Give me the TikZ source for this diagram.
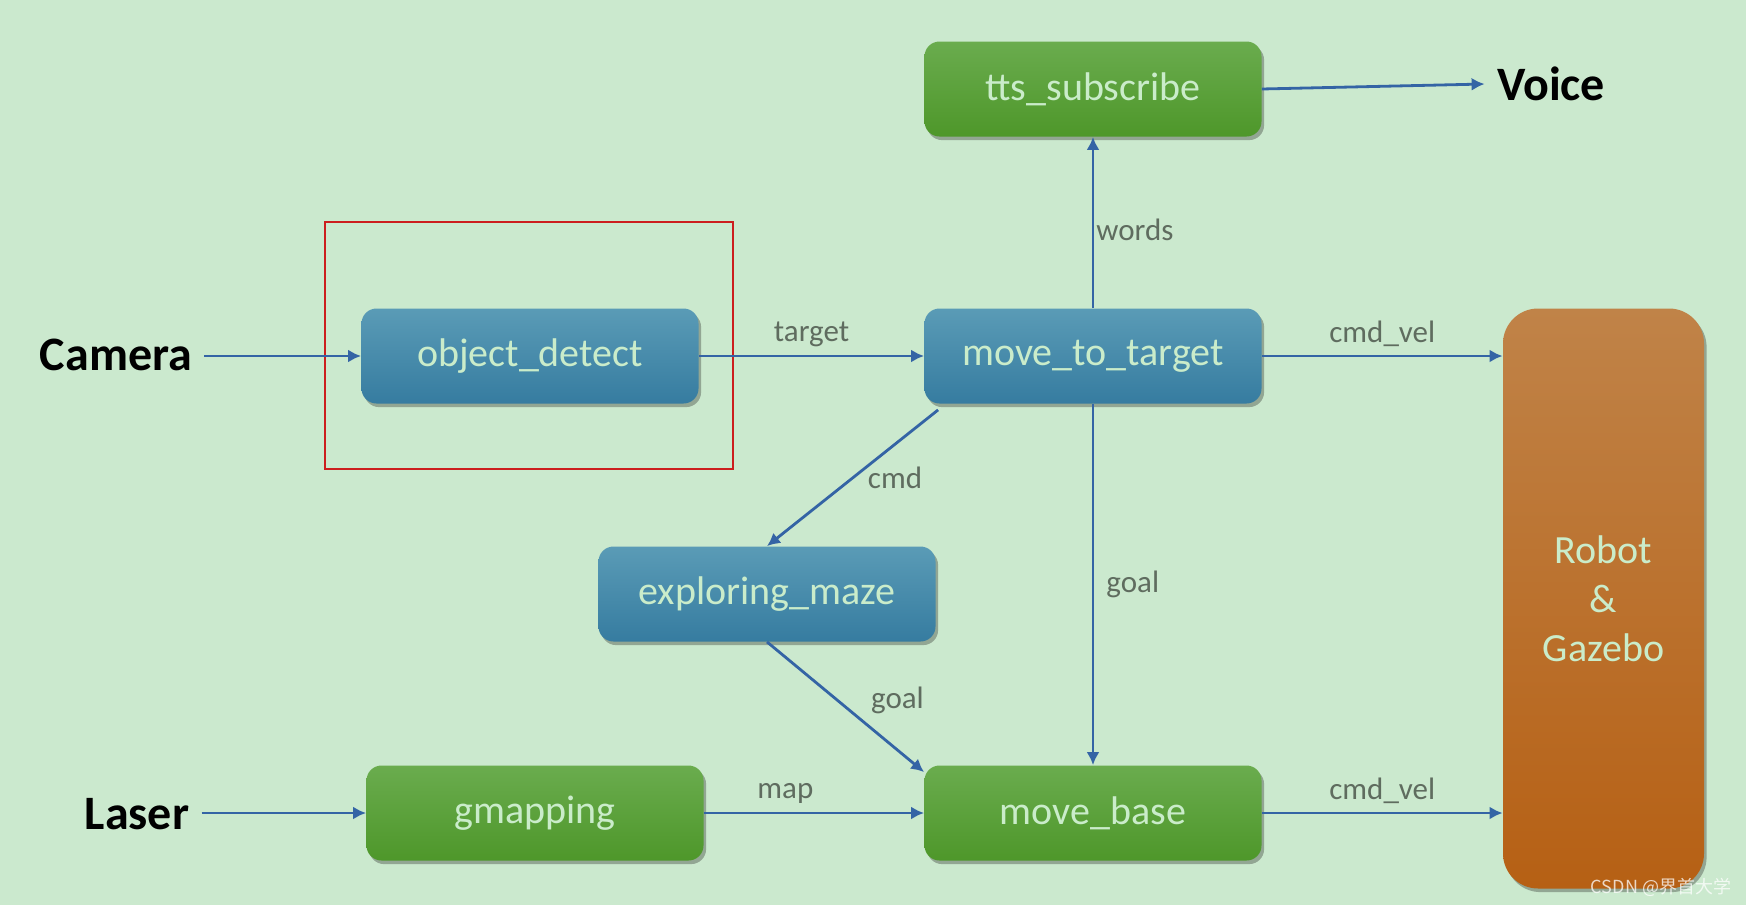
\documentclass[tikz,border=0pt]{standalone}
\usepackage{fontspec}
\setmainfont{Carlito}
\newfontfamily\cjkfont{Noto Sans CJK SC}
\usetikzlibrary{arrows.meta,shadows,shadings,positioning}
\definecolor{bgc}{RGB}{203,233,206}
\definecolor{bluetop}{RGB}{90,155,182}
\definecolor{bluebot}{RGB}{54,124,160}
\definecolor{greentop}{RGB}{106,172,78}
\definecolor{greenbot}{RGB}{78,151,42}
\definecolor{orangetop}{RGB}{192,131,72}
\definecolor{orangebot}{RGB}{182,96,20}
\definecolor{ntext}{RGB}{202,236,202}
\definecolor{lgray}{RGB}{95,108,95}
\definecolor{arrowc}{RGB}{52,100,165}
\definecolor{redbox}{RGB}{204,30,30}
\definecolor{shadowc}{RGB}{90,100,90}
\tikzset{
  boxshadow/.style={drop shadow={shadow xshift=1.3pt, shadow yshift=-1.8pt, opacity=0.5, fill=shadowc}},
  procbox/.style={rounded corners=7.5pt, minimum width=168.5pt, minimum height=47.5pt,
    inner sep=0pt, text=ntext, font=\fontsize{20}{24}\selectfont, boxshadow},
  bluebox/.style={procbox, top color=bluetop, bottom color=bluebot},
  greenbox/.style={procbox, top color=greentop, bottom color=greenbot},
  iolabel/.style={font=\fontsize{24}{28}\selectfont\bfseries, text=black, inner sep=6pt},
  conn/.style={draw=arrowc, line width=1.4pt, -{Latex[length=6.5pt,width=6.5pt]}},
  elabel/.style={font=\fontsize{15.5}{18}\selectfont, text=lgray, inner sep=1pt}
}
\begin{document}
\begin{tikzpicture}[x=0.5pt,y=-0.5pt]
\fill[bgc] (0,0) rectangle (1746,905);
\useasboundingbox (0,0) rectangle (1746,905);

% red highlight box
\draw[redbox, line width=1pt] (325,222) rectangle (733,469);

% nodes
\node[bluebox] (od) at (530,356) {object\_detect};
\node[bluebox] (mtt) at (1093,356) {move\_to\_target};
\node[greenbox] (tts) at (1093,89) {tts\_subscribe};
\node[bluebox] (em) at (767,594) {exploring\_maze};
\node[greenbox] (gm) at (535,813) {gmapping};
\node[greenbox] (mb) at (1093,813) {move\_base};
\node[rounded corners=17.5pt, minimum width=100.5pt, minimum height=290pt, inner sep=0pt,
  top color=orangetop, bottom color=orangebot, text=ntext,
  font=\fontsize{20}{24.5}\selectfont, align=center, boxshadow]
  (robot) at (1603.5,598.5) {Robot\\\&\\Gazebo};

% io labels
\node[iolabel] (cam) at (116,355) {Camera};
\node[iolabel] (laser) at (137,814) {Laser};
\node[iolabel] (voice) at (1551,84) {Voice};

% connectors
\draw[conn] (cam.east |- od.west) -- (od.west);
\draw[conn] (laser.east |- gm.west) -- (gm.west);
\draw[conn] (od.east) -- node[elabel, midway, above=3pt] {target} (mtt.west);
\draw[conn] (mtt.east) -- node[elabel, midway, above=3pt] {cmd\_vel} (mtt.east -| robot.west);
\draw[conn] (mb.east) -- node[elabel, midway, above=3pt] {cmd\_vel} (mb.east -| robot.west);
\draw[conn] (gm.east) -- node[elabel, pos=0.37, above=3pt] {map} (mb.west);
\draw[conn] (tts.east) -- (voice.west);
\draw[conn] (mtt.north) -- node[elabel, pos=0.46, right=0pt] {words} (tts.south);
\draw[conn] (mtt.south) -- node[elabel, midway, right=5pt] {goal} (mb.north);
\draw[conn] ([xshift=7pt,yshift=-3pt]mtt.south west) -- node[elabel, midway, right=6pt] {cmd} (em.north);
\draw[conn] (em.south) -- node[elabel, pos=0.45, right=15pt] {goal} ([yshift=-3.5pt]mb.north west);

% watermark
\node[text=white, opacity=0.75, font=\fontsize{9}{10}\selectfont\cjkfont, inner sep=0pt] (wm) at (1661,887) {CSDN @界首大学};
\end{tikzpicture}
\end{document}
